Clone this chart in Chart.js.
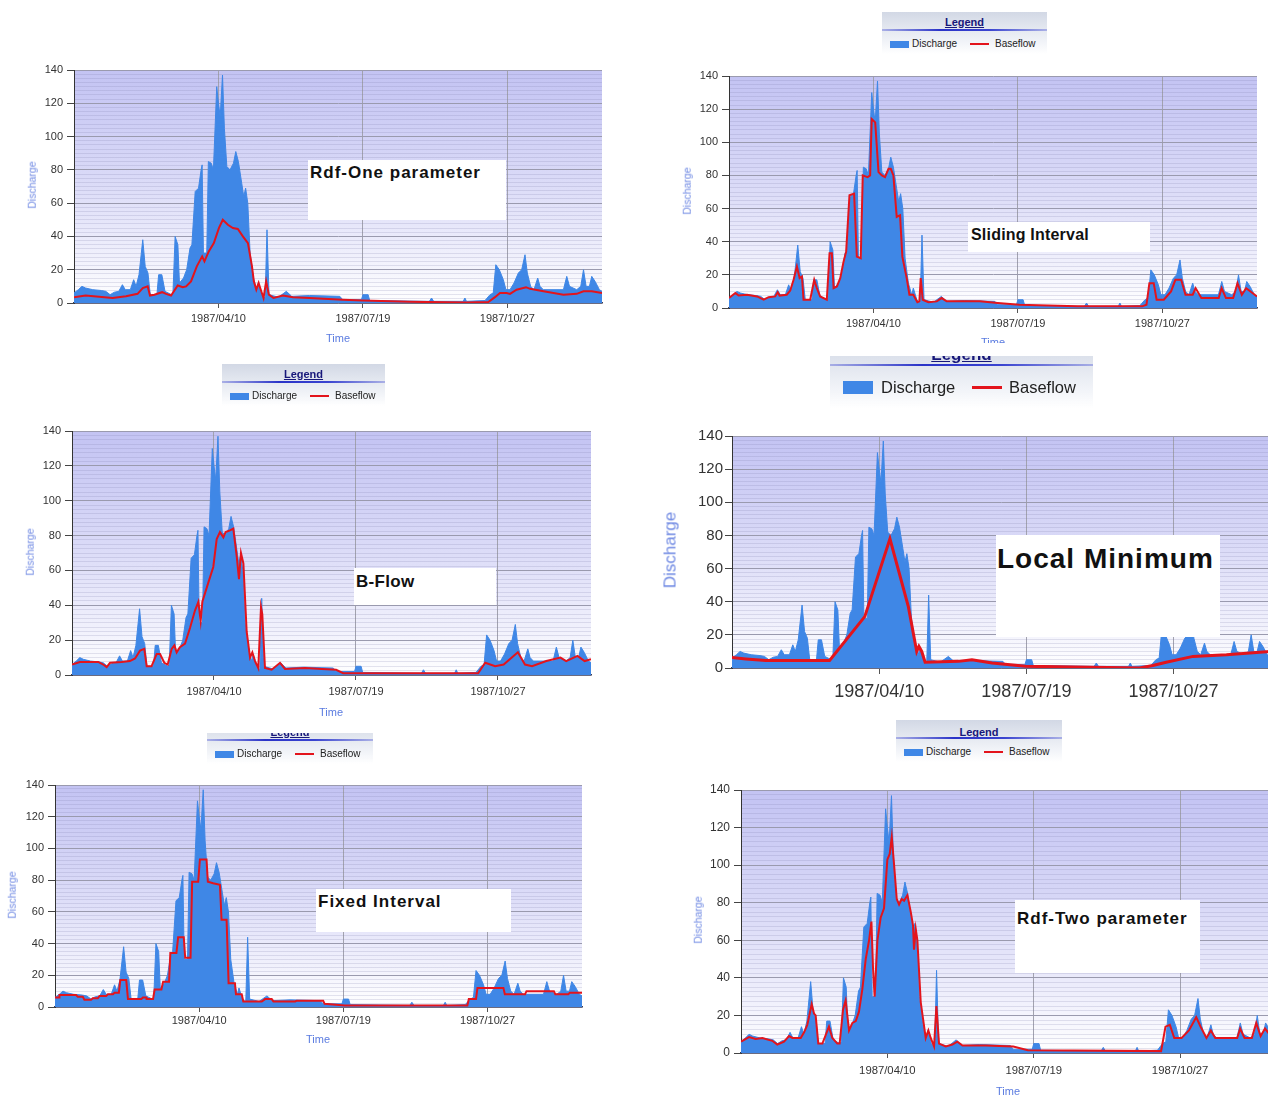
<!DOCTYPE html>
<html><head><meta charset="utf-8">
<script src="https://cdn.jsdelivr.net/npm/chart.js@4.4.1/dist/chart.umd.min.js"></script>
<style>
html,body{margin:0;padding:0;background:#fff;overflow:hidden;width:1268px;height:1095px;}
.panel{position:absolute;overflow:hidden;}
.panel canvas{position:absolute;}
.lbl{position:absolute;font-family:"Liberation Sans",Arial,sans-serif;white-space:nowrap;line-height:1;}
.ytitle{transform:translate(-50%,-50%) rotate(-90deg);color:#6f89e3;}
.xtitle{transform:translate(-50%,-50%);color:#5a7be0;}
.note{position:absolute;background:#fff;}
.note span{position:absolute;font-family:"Liberation Sans",Arial,sans-serif;font-weight:bold;color:#111;white-space:nowrap;line-height:1;}
.legend{position:absolute;background:linear-gradient(to bottom,#d2d8e5 0%,#e4e8f0 40%,#f3f5f9 75%,rgba(255,255,255,0) 100%);}
.legend .ttl{position:absolute;left:0;right:0;text-align:center;font-family:"Liberation Sans",Arial,sans-serif;font-weight:bold;color:#17177a;text-decoration:underline;line-height:1;}
.legend .bar{position:absolute;left:0;right:0;height:2px;background:linear-gradient(to right,rgba(60,70,210,0.35),#2a33c8 35%,#3a44d0 65%,rgba(60,70,210,0.35));}
.legend .sw{position:absolute;background:#3f87e6;}
.legend .rl{position:absolute;background:#e3141c;}
.legend .it{position:absolute;font-family:"Liberation Sans",Arial,sans-serif;color:#222;line-height:1;white-space:nowrap;}
</style>
</head><body>
<script>
// ---------- data ----------
const tickDays = [99, 199, 299];
const tickLabels = ['1987/04/10', '1987/07/19', '1987/10/27'];
const yLabels = [0, 20, 40, 60, 80, 100, 120, 140];

// daily discharge, 1987 (day of year, value)
const discharge = [[-1,6],[2,8],[4.5,10],[7,9],[12,8],[18,7.5],[21,7],[24,5],[27,6.5],[30,7],[32.5,11],[34.5,8],[38,8],[40.3,14],[42,10],[44,17],[46.6,38],[48.3,22],[50.2,18],[51.8,5],[56.4,5],[57.6,17],[59.8,17],[62,7],[66.5,5],[67.5,6],[69,40],[70.9,35],[72,12],[74.8,15],[77,20],[79.3,33],[80.6,35],[82.9,67],[85.2,69],[87,80],[87.7,83],[88.6,30],[90.9,30],[92,85],[94,84],[95.5,80],[97.8,130],[99,120],[100.2,112],[101.8,137],[103.1,105],[104.8,82],[107,80],[109.4,84],[111,91],[112.8,85],[115.1,72],[116.5,64],[117.8,69],[119.3,60],[120.9,30],[123.2,15],[125.5,8],[126.6,12],[129,5],[131.3,3],[132.6,44],[134,5],[140.5,3.5],[146,7],[149.7,4],[162,4.5],[183,4],[185,2],[198,2],[199,5],[202.6,5],[203.7,1.5],[245,1],[246.5,3],[248,1],[268.4,1],[269.6,3],[270.7,1],[283.5,1.5],[287,5],[289.2,6],[291,23],[293.4,20],[296.2,14],[298,8],[300.8,8],[303.6,12],[306.6,18],[308.9,20],[311.2,29],[312.8,18],[315.1,10],[317.4,8],[320,15],[321.6,10],[323.9,8],[337.8,8],[340.1,16],[342,10],[347,8],[349.8,10],[351.7,20],[353.5,10],[355.8,10],[357.4,16],[359.7,13],[362.7,8],[364.5,7]];

const baseRdfOne = [[-1,3.5],[7,4.5],[25.7,3],[35,4],[43,5.5],[46.6,9],[50,10],[51.6,4.5],[54.6,5],[60,6.5],[62.7,5.5],[66.2,4.5],[70.8,10.5],[74.3,9.5],[76.6,10],[80,13],[84,22],[87.7,28],[89.3,25],[92.3,31],[95.8,36],[99.3,45],[102,50],[105.5,47],[109,45],[112.4,44.5],[115.9,40],[119.4,36],[122.2,22],[123.5,13],[125.2,8],[126.8,12],[127.9,9],[130.2,3],[132,13],[133.9,5],[137.1,3],[143.6,4.5],[150.6,3.5],[162,3],[185,2],[199,1.5],[231,0.7],[270.7,0.3],[285.8,0.6],[290.4,3.5],[293.9,6],[298.5,6],[300.8,5.5],[305.4,8],[311.9,9.5],[314.7,8.5],[324,7],[337.8,5],[347,5.5],[351.7,7],[357.4,7],[364.5,6]];

const baseSliding = [[-1,6],[3.4,9],[5.7,7.5],[11.5,8],[18.4,7],[23,5],[26.4,6.5],[31,7],[32.7,9.5],[34,7.5],[39,8],[41.4,10.5],[43.7,17],[46,25],[47.9,18],[49.5,19],[50.6,5],[55.2,5],[58,17],[59.8,12],[62.1,7],[66.7,5],[68.6,33],[70.2,33],[71.4,12],[73.7,13],[76,18],[78.3,28],[80.1,34],[82.4,68],[85.6,69],[87.5,31],[90.2,30],[91.6,80],[94.9,79],[96.7,80],[97.8,114],[100.2,112],[102.5,82],[104.8,80],[107,79],[109.4,84],[111,84],[112.8,80],[115.1,55],[117.4,56],[119,31],[122,18],[123.9,8],[126.6,8],[129.4,3.5],[130.8,4],[131.7,18],[133.1,5],[137,3.5],[142.8,4],[146.2,6],[149.7,4],[172.7,4],[185,3],[200,2],[240,1],[285,1],[288,2],[290,15],[293,15],[295,5],[300,5],[305,10],[308,17],[312,17],[315,8],[320,8],[322,12],[326,6],[338,6],[340,12],[343,6],[348,6],[351,15],[354,8],[357,12],[360,10],[364.5,7]];

const baseBFlow = [[-1,6],[4.6,7.5],[17.5,7.5],[21,6],[23.4,4.5],[25.8,7],[34,7.5],[39.8,8],[43.4,9.5],[46.9,14],[49.9,15],[51.6,5],[55,5],[58.6,12],[61,12],[64,7],[66.4,6],[69.2,15],[71.1,17],[72.7,13],[75,16],[78.6,18],[82.1,27],[85.6,37],[88,42],[89.6,31],[90.8,42],[95,53],[98.5,62],[100.9,78],[103.2,82],[105.6,79],[107.2,82],[110.3,83],[112.6,84],[115,68],[116.6,55],[118,70],[119.7,64],[122,25],[124.4,10],[126,13],[127.9,8],[130.2,4],[132.1,39],[133,35],[134.9,4],[139.6,3],[145.5,7],[149,3.5],[163.1,4],[175,3.5],[185,3],[190,1],[285,1],[290,7],[297,5],[303,6],[313,13],[318,6],[323,5],[333,8],[343,10],[347,8],[355,11],[360,8],[364.5,9]];

const baseLocalMin = [[-2.5,6.5],[8.4,5.5],[22,4.5],[65.3,4.5],[89.2,31],[106.3,78],[118.8,37],[124.5,10],[126,13],[127.9,10],[130.2,3.5],[152.9,4],[162,5],[175.7,3],[198.4,1],[243.9,0.5],[275.8,0],[284.9,1.5],[294,3.5],[312.2,7],[334.9,8],[364.5,10]];

const baseFixed = [[-1,6],[2,6],[2.1,7.5],[13.6,7.5],[14.8,6.5],[18.3,6.5],[19.4,4.5],[24,4.5],[25.2,5.5],[28.7,5.5],[29.9,7],[34.5,7],[35.7,8],[39.2,8],[40.3,9],[43.3,9],[44.3,17],[48.4,17],[49.6,5],[58.9,5],[60,6],[62.4,6],[62.5,5],[67,5],[68.1,11],[72.8,11],[74,16],[78.1,16],[79,34],[83.2,34],[84.4,44],[88.3,44],[89.3,31],[93,31],[94.1,79],[98.3,79],[99.5,93],[104.1,93],[105,79],[108.7,78],[113.4,77],[114.5,55],[118,55],[119.4,15],[123.8,15],[124.5,8],[128.5,8],[129.6,3.5],[142.4,3.5],[144.7,5],[149.3,5],[150.5,3.5],[165.6,3.5],[166.7,4],[185,4],[186,2],[200,1],[285,1],[286,5],[291,5],[292,12],[310,12],[311,8],[325,8],[326,10],[345,10],[346,8],[355,8],[356,9],[364.5,9]];

const baseRdfTwo = [[-1,6],[4.5,8.5],[9,7.5],[13.6,8],[20.4,6.5],[23.8,4.5],[28.4,6],[31.8,9],[34.1,8],[39.8,8],[42.1,11],[44.3,15],[47.3,26],[48.9,21],[50,20],[51.8,5],[54.6,5],[59.1,14],[61.4,8],[64.8,5],[66.4,5],[68.7,23],[70.5,28],[72.8,12],[75.1,16],[77.4,17],[79.6,22],[81.9,34],[84.2,50],[86.5,60],[88.1,70],[89.2,45],[90.3,30],[92.2,60],[94.4,72],[96.7,77],[99,103],[100.6,106],[102,115],[103.6,100],[105.4,82],[107,79],[108.8,82],[110.4,81],[112.7,84],[115,75],[116.5,68],[117.2,55],[118.4,66],[119.5,60],[121.8,27],[123.4,18],[125.2,8],[127,12],[128.6,8],[130.9,3.5],[132.5,25],[134.3,5],[138.9,3.5],[143.4,4.5],[146.8,6],[150.3,4],[166.2,4],[185,3.5],[195,1.5],[286,1],[289,14],[292,15],[295,8],[300,8],[305,12],[310,19],[313,14],[317,8],[320,12],[323,8],[338,8],[340,13],[343,8],[348,8],[351,16],[354,9],[357,13],[360,10],[364.5,8]];

// ---------- layout ----------
const FF = '"Liberation Sans", Arial, sans-serif';
const small = {w:165,h:42,tcy:10,tfs:11,bar:17,icy:32,fs:10,swx:8,sww:19,swh:7,tx:30,rx:88,rw:19,rh:2,bx:113};
const panels = [
 {box:[0,40,645,315], plot:[74,70,602,303], base:baseRdfOne, yFont:11, xFont:11, yTick:7, yPad:4, xTick:5, xPad:4, line:2,
  time:[338,338,11], disc:[32,185,10.5], note:{r:[308,160,506,220], text:'Rdf-One parameter', x:310, cy:172, fs:17, ls:1}},
 {box:[650,0,618,343], plot:[729,76,1257,308], base:baseSliding, yFont:11, xFont:11, yTick:7, yPad:4, xTick:5, xPad:4, line:2,
  time:[993,342,11], disc:[687,191,10.5], note:{r:[968,222,1150,252], text:'Sliding Interval', x:971, cy:235, fs:16, ls:0.2},
  legend:Object.assign({}, small, {x:882,y:12})},
 {box:[0,355,645,378], plot:[72,431,591,675], base:baseBFlow, yFont:11, xFont:11, yTick:7, yPad:4, xTick:5, xPad:5, line:2,
  time:[331,712,11], disc:[30,552,10.5], note:{r:[354,568,496,605], text:'B-Flow', x:356, cy:581, fs:17, ls:0.3},
  legend:Object.assign({}, small, {x:222,y:364,w:163})},
 {box:[655,356,613,354], plot:[732,436,1270,668], base:baseLocalMin, yFont:15, xFont:18, yTick:7, yPad:2, xTick:6, xPad:7, line:3,
  time:null, disc:[670,550,17], note:{r:[996,535,1220,637], text:'Local Minimum', x:997, cy:559, fs:28, ls:1},
  legend:{x:830,y:342,w:263,h:66,tcy:12,tfs:17,bar:22,icy:45,fs:16.5,swx:13,sww:30,swh:13,tx:51,rx:142,rw:30,rh:3,bx:179}},
 {box:[0,733,645,362], plot:[55,785,582,1007], base:baseFixed, yFont:11, xFont:11, yTick:7, yPad:4, xTick:5, xPad:2, line:2,
  time:[318,1039,11], disc:[12,895,10.5], note:{r:[316,889,511,932], text:'Fixed Interval', x:318, cy:901, fs:17, ls:1},
  legend:Object.assign({}, small, {x:207,y:722,w:166})},
 {box:[655,712,613,383], plot:[741,790,1276,1053], base:baseRdfTwo, yFont:12, xFont:11.3, yTick:7, yPad:4, xTick:5, xPad:6, line:2,
  time:[1008,1091,11], disc:[698,920,10.5], note:{r:[1015,900,1200,973], text:'Rdf-Two parameter', x:1017, cy:918, fs:17, ls:1},
  legend:Object.assign({}, small, {x:896,y:720,w:166,tcy:12})}
];

const bgPlugin = {
  id:'bg',
  beforeDraw(chart){
    const {ctx, chartArea:a} = chart;
    const g = ctx.createLinearGradient(0, a.top, 0, a.bottom);
    g.addColorStop(0, '#c3c3f3');
    g.addColorStop(0.45, '#d9d9f7');
    g.addColorStop(0.8, '#f0f0fc');
    g.addColorStop(1, '#ffffff');
    ctx.save(); ctx.fillStyle = g;
    ctx.fillRect(a.left, a.top, a.right - a.left, a.bottom - a.top);
    ctx.restore();
  }
};

function el(tag, cls, parent){ const e=document.createElement(tag); if(cls) e.className=cls; parent.appendChild(e); return e; }

panels.forEach(p => {
  const [bx, by, bw, bh] = p.box;
  const pd = el('div','panel',document.body);
  Object.assign(pd.style,{left:bx+'px',top:by+'px',width:bw+'px',height:bh+'px'});
  const [l,t,r,b] = p.plot;
  const YW=60, PT=12, PR=2, XH=60;
  const cv = el('canvas','',pd);
  const w = r-l+YW+PR, h = b-t+PT+XH;
  cv.width=w; cv.height=h; cv.style.width=w+'px'; cv.style.height=h+'px';
  cv.style.left=(l-YW-bx)+'px'; cv.style.top=(t-PT-by)+'px';
  new Chart(cv, {
    type:'line',
    data:{datasets:[
      {label:'Baseflow', data:p.base.map(([x,y])=>({x,y})), borderColor:'#e3141c', borderWidth:p.line, pointRadius:0, fill:false, tension:0, order:1},
      {label:'Discharge', data:discharge.map(([x,y])=>({x,y})), borderColor:'#3f87e6', backgroundColor:'#3f87e6', borderWidth:1, pointRadius:0, fill:'origin', tension:0, order:2}
    ]},
    options:{
      responsive:false, animation:false, devicePixelRatio:1,
      layout:{padding:{top:PT,left:0,right:PR,bottom:0}},
      plugins:{legend:{display:false}, tooltip:{enabled:false}},
      scales:{
        x:{type:'linear', min:-1, max:364.5,
           afterBuildTicks:s=>{ s.ticks = tickDays.map(v=>({value:v})); },
           afterFit:s=>{ s.height = XH; },
           ticks:{callback:v=>{const i=tickDays.indexOf(v); return i>=0?tickLabels[i]:'';}, autoSkip:false, maxRotation:0, minRotation:0,
                  font:{family:FF,size:p.xFont}, color:'#333', padding:p.xPad},
           grid:{color:'#a2a2ae', lineWidth:1, tickLength:p.xTick, tickColor:'#555'},
           border:{display:true, color:'#3c3c52', width:1.5}},
        y:{min:0, max:140,
           afterBuildTicks:s=>{ const tk=[]; for(let v=0; v<=140; v+=2.5) tk.push({value:v}); s.ticks=tk; },
           afterFit:s=>{ s.width = YW; },
           ticks:{callback:v=> yLabels.includes(v) ? String(v) : '', autoSkip:false,
                  font:{family:FF,size:p.yFont}, color:'#333', padding:p.yPad},
           grid:{color:c=> (c.tick && yLabels.includes(c.tick.value)) ? '#9a9aae' : 'rgba(125,125,170,0.2)',
                 tickColor:c=> (c.tick && yLabels.includes(c.tick.value)) ? '#444' : 'rgba(0,0,0,0)',
                 lineWidth:1, tickLength:p.yTick},
           border:{display:true, color:'#333', width:1}}
      }
    },
    plugins:[bgPlugin]
  });
  // axis titles
  if (p.time){ const d=el('div','lbl xtitle',pd); d.textContent='Time'; Object.assign(d.style,{left:(p.time[0]-bx)+'px',top:(p.time[1]-by)+'px',fontSize:p.time[2]+'px'}); }
  if (p.disc){ const d=el('div','lbl ytitle',pd); d.textContent='Discharge'; Object.assign(d.style,{left:(p.disc[0]-bx)+'px',top:(p.disc[1]-by)+'px',fontSize:p.disc[2]+'px'}); }
  // annotation box
  const n=p.note, nd=el('div','note',pd);
  Object.assign(nd.style,{left:(n.r[0]-bx)+'px',top:(n.r[1]-by)+'px',width:(n.r[2]-n.r[0])+'px',height:(n.r[3]-n.r[1])+'px'});
  const ns=el('span','',nd); ns.textContent=n.text;
  Object.assign(ns.style,{left:(n.x-n.r[0])+'px',top:(n.cy-n.r[1]-n.fs*0.5)+'px',fontSize:n.fs+'px',letterSpacing:n.ls+'px'});
  // legend
  if (p.legend){
    const L=p.legend, ld=el('div','legend',pd);
    Object.assign(ld.style,{left:(L.x-bx)+'px',top:(L.y-by)+'px',width:L.w+'px',height:L.h+'px'});
    const tt=el('div','ttl',ld); tt.textContent='Legend'; Object.assign(tt.style,{top:(L.tcy-L.tfs*0.5)+'px',fontSize:L.tfs+'px'});
    const br=el('div','bar',ld); br.style.top=L.bar+'px';
    const sw=el('div','sw',ld); Object.assign(sw.style,{left:L.swx+'px',top:(L.icy-L.swh/2)+'px',width:L.sww+'px',height:L.swh+'px'});
    const t1=el('div','it',ld); t1.textContent='Discharge'; Object.assign(t1.style,{left:L.tx+'px',top:(L.icy-L.fs*0.5)+'px',fontSize:L.fs+'px'});
    const rl=el('div','rl',ld); Object.assign(rl.style,{left:L.rx+'px',top:(L.icy-L.rh/2)+'px',width:L.rw+'px',height:L.rh+'px'});
    const t2=el('div','it',ld); t2.textContent='Baseflow'; Object.assign(t2.style,{left:L.bx+'px',top:(L.icy-L.fs*0.5)+'px',fontSize:L.fs+'px'});
  }
});
</script>
</body></html>
